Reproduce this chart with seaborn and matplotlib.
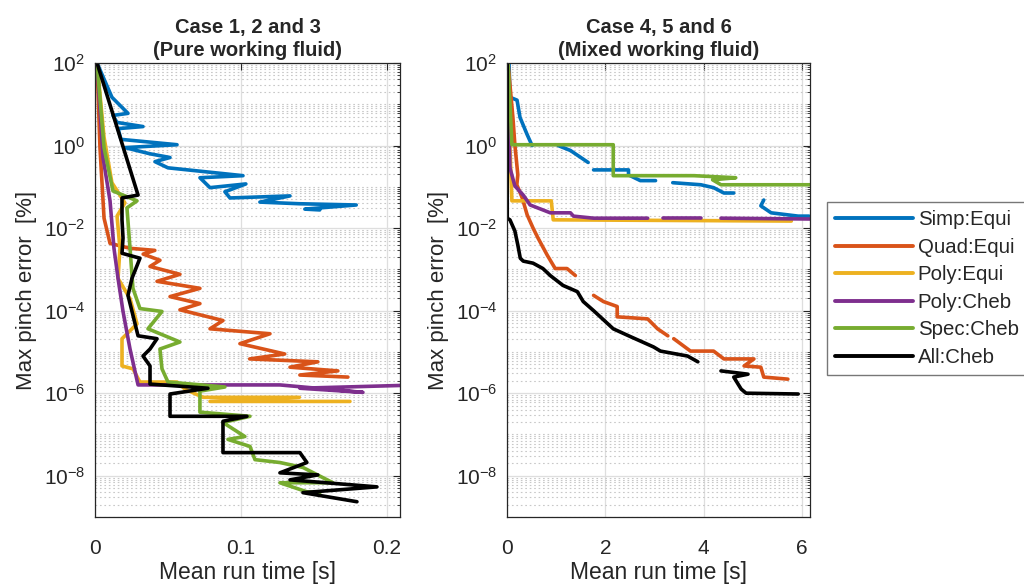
import numpy as np
import pandas as pd
import matplotlib
matplotlib.use("Agg")
import matplotlib.pyplot as plt
import seaborn as sns
from matplotlib.lines import Line2D
from matplotlib.ticker import FixedLocator, LogLocator, NullFormatter, LogFormatterMathtext

nan = np.nan

methods = ["Simp:Equi", "Quad:Equi", "Poly:Equi", "Poly:Cheb", "Spec:Cheb", "All:Cheb"]
colors = ["#0072BD", "#D95319", "#EDB120", "#7E2F8E", "#77AC30", "#000000"]

titles = ["Case 1, 2 and 3\n(Pure working fluid)", "Case 4, 5 and 6\n(Mixed working fluid)"]
x_label = "Mean run time [s]"
y_label = "Max pinch error  [%]"
left_xticks = [0, 0.1, 0.2]
left_xticklabels = ["0", "0.1", "0.2"]
right_xticks = [0, 2, 4, 6]
right_xticklabels = ["0", "2", "4", "6"]
yticks = [1e-8, 1e-6, 1e-4, 1e-2, 1e0, 1e2]

# ---------- Left panel (pure working fluid): time [s], log10(error %) ----------
L_simp_t = [0.0014, 0.0116, 0.0144, 0.0226, 0.0123, 0.0151, 0.0329, 0.0158, 0.0178, 0.0562, 0.0205,
            0.0377, 0.0514, 0.0411, 0.050, 0.1014, 0.0719, 0.0788, 0.1034, 0.089, 0.0925, 0.1336,
            0.113, 0.140, 0.179, 0.1438, 0.154]
L_simp_e = [2.0, 1.17, 1.07, 0.78, 0.73, 0.56, 0.46, 0.41, 0.15, 0.02, -0.05,
            -0.20, -0.29, -0.39, -0.54, -0.73, -0.78, -1.02, -0.93, -1.12, -1.27, -1.22,
            -1.37, -1.41, -1.44, -1.54, -1.56]

L_quad_t = [0.0014, 0.0034, 0.0062, 0.0103, 0.024, 0.041, 0.033, 0.0445, 0.0377, 0.0582, 0.0425,
            0.0719, 0.0514, 0.0719, 0.0582, 0.0877, 0.0788, 0.1199, 0.0993, 0.130, 0.106, 0.1527,
            0.1336, 0.1664, 0.1404, 0.1733]
L_quad_e = [2.0, -0.05, -1.76, -2.37, -2.49, -2.54, -2.63, -2.78, -2.93, -3.12, -3.29,
            -3.46, -3.66, -3.83, -3.98, -4.24, -4.44, -4.56, -4.80, -5.05, -5.17, -5.24,
            -5.37, -5.46, -5.56, -5.61]

L_polyeq_t = [0.0014, 0.0062, 0.0116, 0.0205, 0.0151, 0.0171, 0.0158, 0.024, 0.0288, 0.0185, 0.0185,
              0.026, 0.0308, 0.0562, 0.0616, 0.074, 0.140, 0.0788, 0.1747]
L_polyeq_e = [2.0, 0.20, -0.90, -1.39, -1.71, -2.49, -3.22, -3.71, -4.32, -4.68, -5.34,
              -5.41, -5.73, -5.73, -5.90, -6.10, -6.10, -6.20, -6.20]

L_polych_t = [0.0014, 0.0055, 0.0103, 0.013, 0.0158, 0.0192, 0.024, 0.0295, 0.1267, 0.1836, 0.1404, 0.2226]
L_polych_e = [2.0, -0.29, -1.34, -2.49, -3.22, -4.02, -4.93, -5.80, -5.80, -5.98, -5.88, -5.80]

L_spec_t = [0.0014, 0.0062, 0.0123, 0.0288, 0.0219, 0.024, 0.026, 0.0308, 0.0459, 0.0363, 0.0582,
            0.0445, 0.0459, 0.050, 0.089, 0.0719, 0.0719, 0.1062, 0.0877, 0.1027, 0.0911, 0.1062,
            0.1096, 0.1267, 0.1425, 0.163, 0.1267, 0.1452, 0.1541]
L_spec_e = [2.0, -0.05, -1.10, -1.34, -1.51, -2.49, -3.46, -3.95, -4.02, -4.44, -4.76,
            -4.93, -5.41, -5.73, -5.85, -5.95, -6.46, -6.56, -6.71, -7.05, -7.12, -7.29,
            -7.61, -7.68, -7.80, -8.17, -8.17, -8.39, -8.41]

L_all_t = [0.0014, 0.0295, 0.0185, 0.0185, 0.0192, 0.0185, 0.0308, 0.0253, 0.0226, 0.0295, 0.0425,
           0.0377, 0.0329, 0.0377, 0.0377, 0.0774, 0.0514, 0.0514, 0.1041, 0.0877, 0.0877, 0.1404,
           0.1452, 0.1267, 0.1527, 0.1336, 0.1932, 0.1425, 0.1795]
L_all_e = [2.0, -1.20, -1.27, -1.80, -2.24, -2.61, -2.73, -3.22, -3.63, -4.61, -4.68,
           -4.93, -5.10, -5.34, -5.78, -5.88, -6.02, -6.56, -6.56, -6.68, -7.44, -7.44,
           -7.68, -7.93, -7.98, -8.10, -8.27, -8.41, -8.63]

# ---------- Right panel (mixed working fluid); nan marks a gap ----------
R_simp_t = [0.041, 0.061, 0.204, 0.265, 0.408, 0.51, nan, 1.04, 1.29, 1.65, nan, 1.76, 2.47, 2.47, 2.71,
            3.02, nan, 3.37, 3.94, 4.20, 4.41, 4.61, nan, 5.22, 5.16, 5.37, 5.92, 6.14]
R_simp_e = [2.0, 1.17, 1.10, 0.68, 0.27, 0.0, nan, 0.0, -0.12, -0.41, nan, -0.59, -0.59, -0.71, -0.85,
            -0.85, nan, -0.90, -0.95, -1.02, -1.15, -1.15, nan, -1.32, -1.46, -1.63, -1.71, -1.71]

R_quad_t = [0.02, 0.12, 0.16, 0.22, 0.20, 0.31, 0.41, 0.53, 0.63, 0.82, 0.98, 1.22, 1.39, nan,
            1.76, 1.96, 2.24, 2.24, 2.86, 3.06, 3.27, nan, 3.39, 3.73, 4.20, 4.41, 5.02, 4.82,
            5.16, 5.22, 5.71]
R_quad_e = [2.0, 0.68, 0.02, -0.71, -0.95, -1.27, -1.68, -2.0, -2.24, -2.66, -2.98, -2.98, -3.15, nan,
            -3.63, -3.78, -3.90, -4.15, -4.20, -4.44, -4.61, nan, -4.68, -4.98, -4.98, -5.17, -5.17, -5.34,
            -5.37, -5.61, -5.66]

R_polyeq_t = [0.02, 0.06, 0.10, 0.90, 0.94, 5.78]
R_polyeq_e = [2.0, -0.05, -1.34, -1.34, -1.80, -1.83]

R_polych_t = [0.02, 0.04, 0.06, 0.16, 0.33, 0.47, 0.73, 0.88, 1.29, 1.35, 1.76, 2.86, nan,
              3.18, 3.94, nan, 4.35, 6.18]
R_polych_e = [2.0, 0.44, -0.54, -0.98, -1.20, -1.44, -1.56, -1.63, -1.63, -1.71, -1.76, -1.76, nan,
              -1.76, -1.76, nan, -1.76, -1.78]

R_spec_t = [0.02, 0.10, 2.16, 2.16, 3.80, 4.65, 4.18, 4.35, 6.22]
R_spec_e = [2.0, 0.02, 0.02, -0.73, -0.73, -0.78, -0.83, -0.95, -0.95]

R_all_t = [0.005, 0.005, 0.06, 0.16, 0.22, 0.27, 0.33, 0.53, 0.73, 0.88, 1.14, 1.43, 1.55, 1.76,
           2.16, 2.51, 2.98, 3.12, 3.67, 3.88, nan, 4.35, 4.90, 4.61, 4.76, 4.86, 5.92]
R_all_e = [2.0, -1.76, -1.80, -2.07, -2.41, -2.73, -2.80, -2.85, -2.98, -3.15, -3.39, -3.54, -3.78, -4.0,
           -4.44, -4.63, -4.88, -4.98, -5.10, -5.24, nan, -5.46, -5.54, -5.61, -5.90, -6.0, -6.02]

left_series = [(L_simp_t, L_simp_e), (L_quad_t, L_quad_e), (L_polyeq_t, L_polyeq_e),
               (L_polych_t, L_polych_e), (L_spec_t, L_spec_e), (L_all_t, L_all_e)]
right_series = [(R_simp_t, R_simp_e), (R_quad_t, R_quad_e), (R_polyeq_t, R_polyeq_e),
                (R_polych_t, R_polych_e), (R_spec_t, R_spec_e), (R_all_t, R_all_e)]


def build_frame(series):
    frames = []
    for name, (t, e) in zip(methods, series):
        t = np.asarray(t, float)
        e = np.asarray(e, float)
        seg = np.cumsum(np.isnan(t))
        keep = ~np.isnan(t)
        frames.append(pd.DataFrame({
            "time": t[keep],
            "err": 10.0 ** e[keep],
            "method": name,
            "seg": [f"{name}-{s}" for s in seg[keep]],
        }))
    return pd.concat(frames, ignore_index=True)


sns.set_theme(style="white")
plt.rcParams["font.family"] = ["Liberation Sans", "DejaVu Sans"]
plt.rcParams["mathtext.fontset"] = "custom"
plt.rcParams["mathtext.rm"] = "Liberation Sans"
plt.rcParams["mathtext.it"] = "Liberation Sans"

W, H = 1024, 588
fig = plt.figure(figsize=(W / 100, H / 100), dpi=100)
ax_l = fig.add_axes([95 / W, 1 - 517 / H, (400 - 95) / W, (517 - 63) / H])
ax_r = fig.add_axes([507 / W, 1 - 517 / H, (810 - 507) / W, (517 - 63) / H])

palette = dict(zip(methods, colors))
text_c = "#262626"

for ax, series, title, xl, xt, xtl in [
    (ax_l, left_series, titles[0], (0, 0.209), left_xticks, left_xticklabels),
    (ax_r, right_series, titles[1], (0, 6.16), right_xticks, right_xticklabels),
]:
    df = build_frame(series)
    sns.lineplot(data=df, x="time", y="err", hue="method", hue_order=methods, units="seg",
                 estimator=None, sort=False, palette=palette, linewidth=2.6, legend=False, ax=ax)
    ax.set_yscale("log")
    ax.set_ylim(1e-9, 1e2)
    ax.set_xlim(*xl)
    ax.yaxis.set_major_locator(FixedLocator(yticks))
    ax.yaxis.set_major_formatter(LogFormatterMathtext())
    ax.yaxis.set_minor_locator(LogLocator(base=10, subs=np.arange(1, 10), numticks=50))
    ax.yaxis.set_minor_formatter(NullFormatter())
    ax.set_xticks(xt)
    ax.set_xticklabels(xtl)
    ax.grid(which="major", color="#dedede", linewidth=0.9, linestyle="-")
    ax.grid(which="minor", axis="y", color="#c8c8c8", linewidth=0.8, linestyle=(0, (1.5, 2.5)))
    ax.set_axisbelow(True)
    ax.tick_params(which="both", direction="in", top=True, right=True, colors=text_c,
                   labelsize=15)
    ax.tick_params(axis="x", which="major", pad=16)
    ax.tick_params(axis="y", which="major", pad=7)
    ax.tick_params(which="major", length=5, width=0.8)
    ax.tick_params(which="minor", length=2.5, width=0.6)
    for s in ax.spines.values():
        s.set_color(text_c)
        s.set_linewidth(0.9)
    ax.set_xlabel(x_label, fontsize=16.5, color=text_c, labelpad=2)
    ax.set_ylabel(y_label, fontsize=16, color=text_c, labelpad=5)
    ax.set_title(title, fontsize=14.5, fontweight="bold", color=text_c, pad=5, linespacing=1.3)

handles = [Line2D([0], [0], color=c, lw=2.8) for c in colors]
leg = fig.legend(handles, methods, loc="upper left", bbox_to_anchor=(827 / W, 1 - 202 / H),
                 frameon=True, fontsize=14.7, handlelength=3.8, handletextpad=0.25,
                 labelspacing=0.42, borderpad=0.4, borderaxespad=0, fancybox=False)
leg.get_frame().set_edgecolor("#555555")
leg.get_frame().set_linewidth(1.0)
for t in leg.get_texts():
    t.set_color(text_c)

fig.savefig("out.png", dpi=100)
